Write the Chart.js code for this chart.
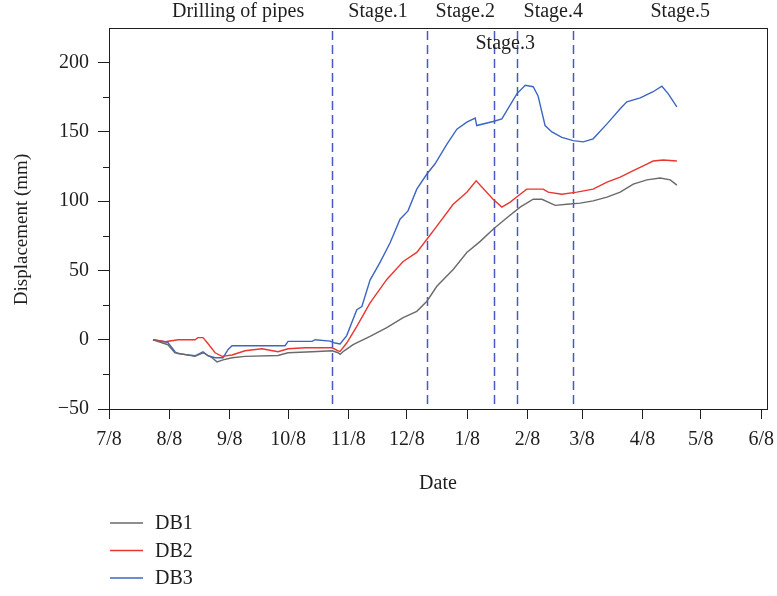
<!DOCTYPE html>
<html><head><meta charset="utf-8">
<script src="https://cdn.jsdelivr.net/npm/chart.js@4/dist/chart.umd.min.js"></script>
<style>html,body{margin:0;padding:0;background:#fff}#wrap{width:777px;height:596px;position:relative}</style>
</head><body><div id="wrap"><canvas id="c" width="777" height="596"></canvas></div>
<script>
// x values are days counted from 7/8
const seriesNames = ['DB1', 'DB2', 'DB3'];
const seriesColors = ['#6a6a6a', '#ea3530', '#3c66c2'];

const db1Days = [22.6,30.3,33.9,44.2,48.3,52.9,55.5,58.6,63.2,69.9,86.8,92,104.3,114.6,117.7,118.7,120.8,125.4,134.1,142.7,151.1,158.1,163.3,168.4,176.8,183.8,190.7,197.3,204.4,211.2,217.9,222.4,229.2,235.2,242,248.7,255.8,262.6,269.3,276.3,283.1,288.3,291.7];
const db1Vals = [0,-3.6,-9.4,-12,-9.4,-13,-16,-14.5,-13,-12,-11.4,-9.4,-8.7,-8,-9.4,-10.5,-8,-3.6,2.4,8.7,16,20.5,27.8,38.6,50.7,63,71,79.7,88,95.7,101.4,101.4,97,97.8,98.6,100.2,102.9,106.5,112.3,115.4,116.7,115.4,111.6];

const db2Days = [22.6,28.8,35.5,44.2,45.7,48.3,50.4,54.5,58.1,63.2,69.9,78.6,86.8,92,100.7,111,114.6,117.7,118.7,122.1,127.3,134.1,142.7,151.1,158.1,163.3,168.4,176.8,183.8,188.6,197.3,201.8,206.1,211.2,214.6,223,225.6,232.6,240.3,248.7,255.8,262.6,269.3,276.3,279.5,284.7,291.7];
const db2Vals = [0,-1.5,0,0,1.5,1.5,-2,-9.4,-12,-11,-8,-6.5,-8.7,-6.5,-5.8,-5.8,-5.8,-8,-8.5,-2.4,9.7,26.6,43.5,56.5,63,72.5,82,97.8,106.5,114.7,101.4,95.7,99.3,105,108.7,108.7,106.5,105,106.5,108.7,113.8,117.4,122,126.8,129,129.7,129];

const db3Days = [22.6,28.8,30.3,33.9,35.5,44.2,48.3,50.9,54.5,58.6,61.2,63.2,69.9,90.4,92,104.3,105.9,113.6,116.1,118.7,122.1,127.3,129.9,134.1,139.3,144.4,149.5,153.6,158.1,163.3,167.5,173.5,178.7,183.8,188.1,188.9,197.3,201.8,209.5,213.8,217.9,220.4,224,227.5,232.6,238.4,243.6,248.7,255.8,262.6,266,272.9,279.5,284,287.3,291.7];
const db3Vals = [0,-1.5,-2,-8.7,-10,-11.6,-8.7,-11.6,-13,-13,-7,-4.3,-4.3,-4.3,-1.2,-1.2,0,-1,-2.4,-3,3,21.7,24,43,56,70,87,93,108.7,119.6,127,141,152,157,160,154.6,157.5,159.4,177.5,183.6,182.6,176,154.6,150,146,143.7,142.8,145,155.8,166.7,171.7,174.6,179,183,177.5,168];

const monthTickDays = [0,31,62,92,123,153,184,215,243,274,304,335];
const monthTickLabels = ['7/8','8/8','9/8','10/8','11/8','12/8','1/8','2/8','3/8','4/8','5/8','6/8'];
const yTickValues = [-50,0,50,100,150,200];
const yMinorTickValues = [-25,25,75,125,175];
const yTitle = 'Displacement (mm)';
const xTitle = 'Date';

const stageLineDays = [114.6,163.6,197.6,209.6,238.5];
const stageLabels = ['Drilling of pipes','Stage.1','Stage.2','Stage.3','Stage.4','Stage.5'];
const stageLabelDays = [66.3,138.2,183,203.5,228.2,293.4];
const stageLabelRow = [0,0,0,1,0,0];

const FONT = '"Liberation Serif", "DejaVu Serif", serif';
const FS = 20;
const INK = '#1e1e1e';

const allDays = [db1Days, db2Days, db3Days];
const allVals = [db1Vals, db2Vals, db3Vals];

const deco = {
  id: 'deco',
  beforeDatasetsDraw(chart) {
    const {ctx, chartArea: a, scales: {x}} = chart;
    ctx.save();
    ctx.strokeStyle = '#4a58c4';
    ctx.lineWidth = 1.5;
    ctx.setLineDash([9, 5]);
    stageLineDays.forEach(d => {
      const px = Math.round(x.getPixelForValue(d)) + 0.5;
      ctx.beginPath(); ctx.moveTo(px, a.top + 3); ctx.lineTo(px, a.bottom); ctx.stroke();
    });
    ctx.restore();
  },
  afterDraw(chart) {
    const {ctx, chartArea: a, scales: {x, y}} = chart;
    ctx.save();
    ctx.strokeStyle = INK; ctx.lineWidth = 1;
    ctx.strokeRect(Math.round(a.left) + 0.5, Math.round(a.top) + 0.5, Math.round(a.width), Math.round(a.height));
    yMinorTickValues.forEach(v => {
      const py = Math.round(y.getPixelForValue(v)) + 0.5;
      ctx.beginPath(); ctx.moveTo(a.left - 6, py); ctx.lineTo(a.left, py); ctx.stroke();
    });
    ctx.fillStyle = INK;
    ctx.font = FS + 'px ' + FONT;
    ctx.textAlign = 'center'; ctx.textBaseline = 'middle';
    stageLabels.forEach((t, i) => {
      const px = x.getPixelForValue(stageLabelDays[i]);
      const py = stageLabelRow[i] === 0 ? a.top - 16 : a.top + 16;
      ctx.fillText(t, px, py);
    });
    // y-axis title
    ctx.save();
    ctx.font = '19px ' + FONT;
    ctx.translate(22, (a.top + a.bottom) / 2 + 11);
    ctx.rotate(-Math.PI / 2);
    ctx.fillText(yTitle, 0, 0);
    ctx.restore();
    // legend
    ctx.textAlign = 'left';
    seriesNames.forEach((n, i) => {
      const ly = 523 + i * 27.5;
      ctx.strokeStyle = seriesColors[i]; ctx.lineWidth = 1.5;
      ctx.beginPath(); ctx.moveTo(a.left + 1, ly); ctx.lineTo(a.left + 34, ly); ctx.stroke();
      ctx.fillStyle = INK;
      ctx.fillText(n, a.left + 46, ly + 1);
    });
    ctx.restore();
  }
};

new Chart(document.getElementById('c'), {
  type: 'line',
  data: {
    datasets: seriesNames.map((n, i) => ({
      label: n,
      data: allDays[i].map((d, k) => ({x: d, y: allVals[i][k]})),
      borderColor: seriesColors[i],
      borderWidth: 1.4,
      pointRadius: 0,
      tension: 0,
      fill: false
    }))
  },
  options: {
    responsive: false,
    devicePixelRatio: 1,
    animation: false,
    layout: {padding: {left: 0, top: 28, right: 10, bottom: 97}},
    plugins: {legend: {display: false}, tooltip: {enabled: false}},
    scales: {
      x: {
        type: 'linear', min: 0, max: 338,
        afterBuildTicks: s => { s.ticks = monthTickDays.map(v => ({value: v})); },
        afterFit: s => { s.height = 90; s.paddingLeft = 0; s.paddingRight = 0; },
        ticks: {
          callback: v => { const i = monthTickDays.indexOf(v); return i >= 0 ? monthTickLabels[i] : ''; },
          font: {family: FONT, size: FS}, color: INK, padding: 9, maxRotation: 0, autoSkip: false
        },
        grid: {drawOnChartArea: false, drawTicks: true, tickLength: 10, color: INK},
        border: {color: INK},
        title: {display: true, text: xTitle, font: {family: FONT, size: FS}, color: INK, padding: {top: 0, bottom: 3}}
      },
      y: {
        min: -50, max: 225,
        afterBuildTicks: s => { s.ticks = yTickValues.map(v => ({value: v})); },
        afterFit: s => { s.width = 109; s.paddingTop = 0; s.paddingBottom = 0; },
        ticks: {
          callback: v => v < 0 ? '\u2212' + Math.abs(v) : String(v),
          font: {family: FONT, size: FS}, color: INK, padding: 9
        },
        grid: {drawOnChartArea: false, drawTicks: true, tickLength: 11, color: INK},
        border: {color: INK},
        title: {display: false}
      }
    }
  },
  plugins: [deco]
});
</script>
</body></html>
